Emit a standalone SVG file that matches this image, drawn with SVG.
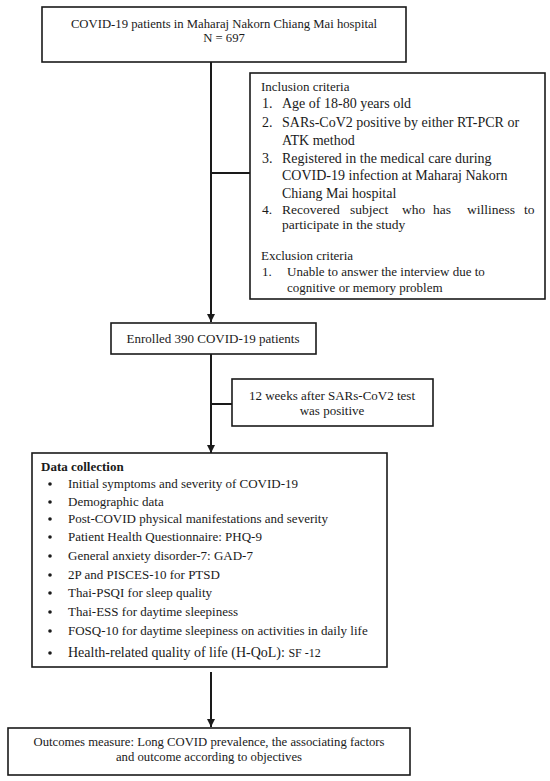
<svg xmlns="http://www.w3.org/2000/svg" width="550" height="781" viewBox="0 0 550 781">
<defs>
<marker id="arr" viewBox="0 0 10 10" refX="10" refY="5" markerWidth="4" markerHeight="4" orient="auto" markerUnits="strokeWidth">
<path d="M0,0 L10,5 L0,10 z" fill="#1a1a1a"/>
</marker>
<style>
.box{fill:#fff;stroke:#1a1a1a;stroke-width:1.6}
.ln{fill:none;stroke:#1a1a1a;stroke-width:2}
text{font-family:"Liberation Serif","Times New Roman",serif;fill:#1a1a1a;font-size:13px}
.c{text-anchor:middle}
.li{font-size:14px}
.m{font-size:13.5px}
.s{font-size:12.7px}
.b{font-weight:bold}
</style>
</defs>
<rect width="550" height="781" fill="#fff"/>
<g id="connectors">
<line class="ln" x1="211" y1="62" x2="211" y2="322" marker-end="url(#arr)"/>
<line class="ln" x1="211" y1="173" x2="250" y2="173"/>
<line class="ln" x1="211" y1="354" x2="211" y2="453" marker-end="url(#arr)"/>
<line class="ln" x1="211" y1="404" x2="232" y2="404"/>
<line class="ln" x1="211" y1="672" x2="211" y2="727" marker-end="url(#arr)"/>
</g>
<g id="n1">
<rect class="box" x="42" y="7" width="364" height="55"/>
<text class="c s" x="224" y="28">COVID-19 patients in Maharaj Nakorn Chiang Mai hospital</text>
<text class="c s" x="224" y="42">N = 697</text>
</g>
<g id="criteria">
<rect class="box" x="250" y="73" width="295" height="226"/>
<text x="261" y="91">Inclusion criteria</text>
<text class="li" x="262" y="108">1.</text><text class="li" x="282" y="108">Age of 18-80 years old</text>
<text class="li" x="262" y="127">2.</text><text class="li" x="282" y="127">SARs-CoV2 positive by either RT-PCR or</text>
<text class="li" x="282" y="145">ATK method</text>
<text class="li" x="262" y="163">3.</text><text class="li" x="282" y="163">Registered in the medical care during</text>
<text class="li" x="282" y="180">COVID-19 infection at Maharaj Nakorn</text>
<text class="li" x="282" y="198">Chiang Mai hospital</text>
<text class="m" x="262" y="214">4.</text>
<text class="m" x="282" y="214">Recovered<tspan x="350">subject</tspan><tspan x="402">who</tspan><tspan x="433">has</tspan><tspan x="467">williness</tspan><tspan x="524">to</tspan></text>
<text class="m" x="282" y="229">participate in the study</text>
<text x="261" y="260">Exclusion criteria</text>
<text x="262" y="276">1.</text><text x="287" y="276">Unable to answer the interview due to</text>
<text x="287" y="292">cognitive or memory problem</text>
</g>
<g id="n2">
<rect class="box" x="111" y="323" width="205" height="31"/>
<text class="c" x="213" y="343">Enrolled 390 COVID-19 patients</text>
</g>
<g id="n3">
<rect class="box" x="232" y="379" width="201" height="47"/>
<text class="c" x="332" y="400">12 weeks after SARs-CoV2 test</text>
<text class="c" x="332" y="415">was positive</text>
</g>
<g id="n4">
<rect class="box" x="32" y="453" width="355" height="214"/>
<text class="b" x="41" y="471">Data collection</text>
<g>
<circle cx="50" cy="484" r="1.8" fill="#1a1a1a"/><text x="68" y="488">Initial symptoms and severity of COVID-19</text>
<circle cx="50" cy="502" r="1.8" fill="#1a1a1a"/><text x="68" y="506">Demographic data</text>
<circle cx="50" cy="519" r="1.8" fill="#1a1a1a"/><text x="68" y="523">Post-COVID physical manifestations and severity</text>
<circle cx="50" cy="537" r="1.8" fill="#1a1a1a"/><text x="68" y="541">Patient Health Questionnaire: PHQ-9</text>
<circle cx="50" cy="556" r="1.8" fill="#1a1a1a"/><text x="68" y="560">General anxiety disorder-7: GAD-7</text>
<circle cx="50" cy="575" r="1.8" fill="#1a1a1a"/><text x="68" y="579">2P and PISCES-10 for PTSD</text>
<circle cx="50" cy="593" r="1.8" fill="#1a1a1a"/><text x="68" y="597">Thai-PSQI for sleep quality</text>
<circle cx="50" cy="612" r="1.8" fill="#1a1a1a"/><text x="68" y="616">Thai-ESS for daytime sleepiness</text>
<circle cx="50" cy="631" r="1.8" fill="#1a1a1a"/><text x="68" y="635">FOSQ-10 for daytime sleepiness on activities in daily life</text>
<circle cx="50" cy="653" r="1.8" fill="#1a1a1a"/><text x="68" y="657" style="font-size:14px">Health-related quality of life (H-QoL): <tspan style="font-size:12px">SF -12</tspan></text>
</g>
</g>
<g id="n5">
<rect class="box" x="8" y="728" width="402" height="47"/>
<text class="c s" x="209" y="746">Outcomes measure: Long COVID prevalence, the associating factors</text>
<text class="c s" x="209" y="761">and outcome according to objectives</text>
</g>
</svg>
